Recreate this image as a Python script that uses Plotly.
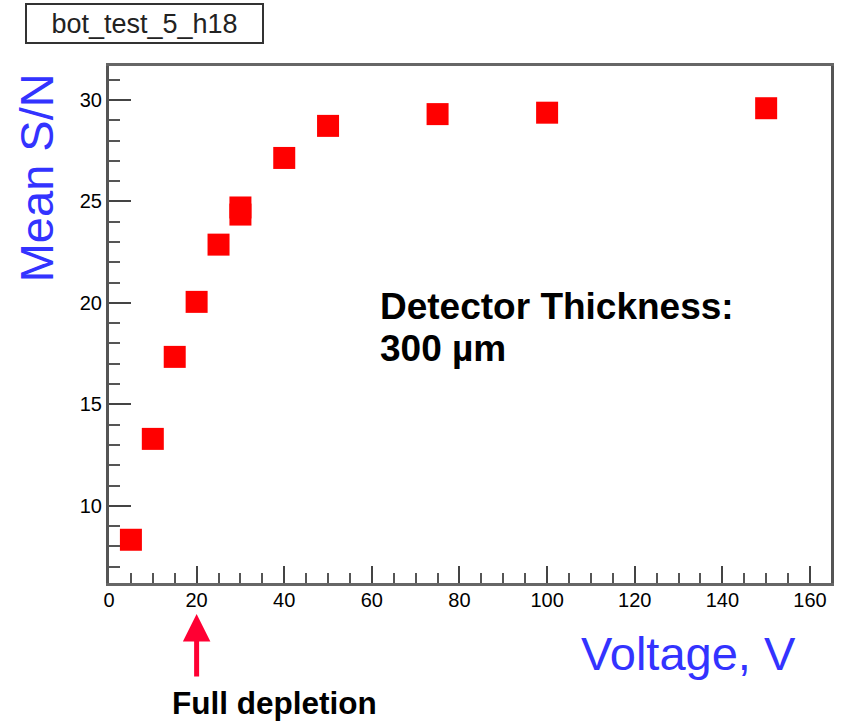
import plotly.graph_objects as go

voltage = [5, 10, 15, 20, 25, 30, 30, 40, 50, 75, 100, 150]
mean_sn = [8.33, 13.3, 17.34, 20.05, 22.87, 24.70, 24.35, 27.14, 28.72, 29.3, 29.37, 29.59]

x_ticks = [0, 20, 40, 60, 80, 100, 120, 140, 160]
y_ticks = [10, 15, 20, 25, 30]

FONT = "Liberation Sans, Arial, sans-serif"
BLUE = "#3333ff"

fig = go.Figure()
fig.add_trace(go.Scatter(
    x=voltage, y=mean_sn, mode="markers",
    marker=dict(symbol="square", size=22, color="#ff0000", line=dict(width=0)),
    showlegend=False, hoverinfo="x+y",
))

W, H = 842, 722
L, R, T, B = 109, 8, 66, 139

fig.update_layout(
    width=W, height=H,
    margin=dict(l=L, r=R, t=T, b=B, pad=0),
    paper_bgcolor="white", plot_bgcolor="white",
    font=dict(family=FONT, color="black"),
    xaxis=dict(
        range=[0, 164.8], tickvals=x_ticks, ticktext=[str(v) for v in x_ticks],
        ticks="inside", ticklen=17, tickwidth=2, tickcolor="#444",
        showline=True, linecolor="#666", linewidth=3, mirror=True,
        showgrid=False, zeroline=False,
        tickfont=dict(size=20, family=FONT, color="black"),
        ticklabelstandoff=-3,
        minor=dict(dtick=5, tick0=0, ticks="inside", ticklen=10, tickwidth=2, tickcolor="#555", showgrid=False),
    ),
    yaxis=dict(
        range=[6.2, 31.67], tickvals=y_ticks, ticktext=[str(v) for v in y_ticks],
        ticks="inside", ticklen=22, tickwidth=2, tickcolor="#444",
        showline=True, linecolor="#555", linewidth=3, mirror=True,
        showgrid=False, zeroline=False,
        tickfont=dict(size=20, family=FONT, color="black"),
        ticklabelstandoff=0,
        minor=dict(dtick=1, tick0=0, ticks="inside", ticklen=11, tickwidth=2, tickcolor="#555", showgrid=False),
    ),
)

pw = W - L - R
ph = H - T - B


def px(xp):
    return (xp - L) / pw


def py(yp):
    return (H - B - yp) / ph


annotations = [
    # title box
    dict(x=px(145), y=py(23), xref="paper", yref="paper", text="bot_test_5_h18",
         showarrow=False, font=dict(size=27, family=FONT, color="#222"),
         bordercolor="#333", borderwidth=2, borderpad=3, bgcolor="white",
         width=229, height=31, xanchor="center", yanchor="middle"),
    # y title
    dict(x=px(37), y=py(178), xref="paper", yref="paper", text="Mean S/N",
         showarrow=False, textangle=-90, font=dict(size=47, family=FONT, color=BLUE),
         xanchor="center", yanchor="middle"),
    # x title
    dict(x=px(801), y=py(653), xref="paper", yref="paper", text="Voltage, V",
         showarrow=False, font=dict(size=47, family=FONT, color=BLUE),
         xanchor="right", yanchor="middle"),
    # detector text
    dict(x=px(379), y=py(306), xref="paper", yref="paper", text="<b>Detector Thickness:</b>",
         showarrow=False, font=dict(size=37, family=FONT, color="black"),
         xanchor="left", yanchor="middle"),
    dict(x=px(379), y=py(348), xref="paper", yref="paper", text="<b>300 µm</b>",
         showarrow=False, font=dict(size=37, family=FONT, color="black"),
         xanchor="left", yanchor="middle"),
    # full depletion
    dict(x=px(275), y=py(703), xref="paper", yref="paper", text="<b>Full depletion</b>",
         showarrow=False, font=dict(size=31.5, family=FONT, color="black"),
         xanchor="center", yanchor="middle"),
    # arrow
    dict(x=20, y=py(614), xref="x", yref="paper", text="", showarrow=True,
         ax=0, ay=64, axref="pixel", ayref="pixel",
         arrowhead=2, arrowsize=1.1, arrowwidth=5, arrowcolor="#ff0033"),
]
fig.update_layout(annotations=annotations)

fig.write_html("out.html")
